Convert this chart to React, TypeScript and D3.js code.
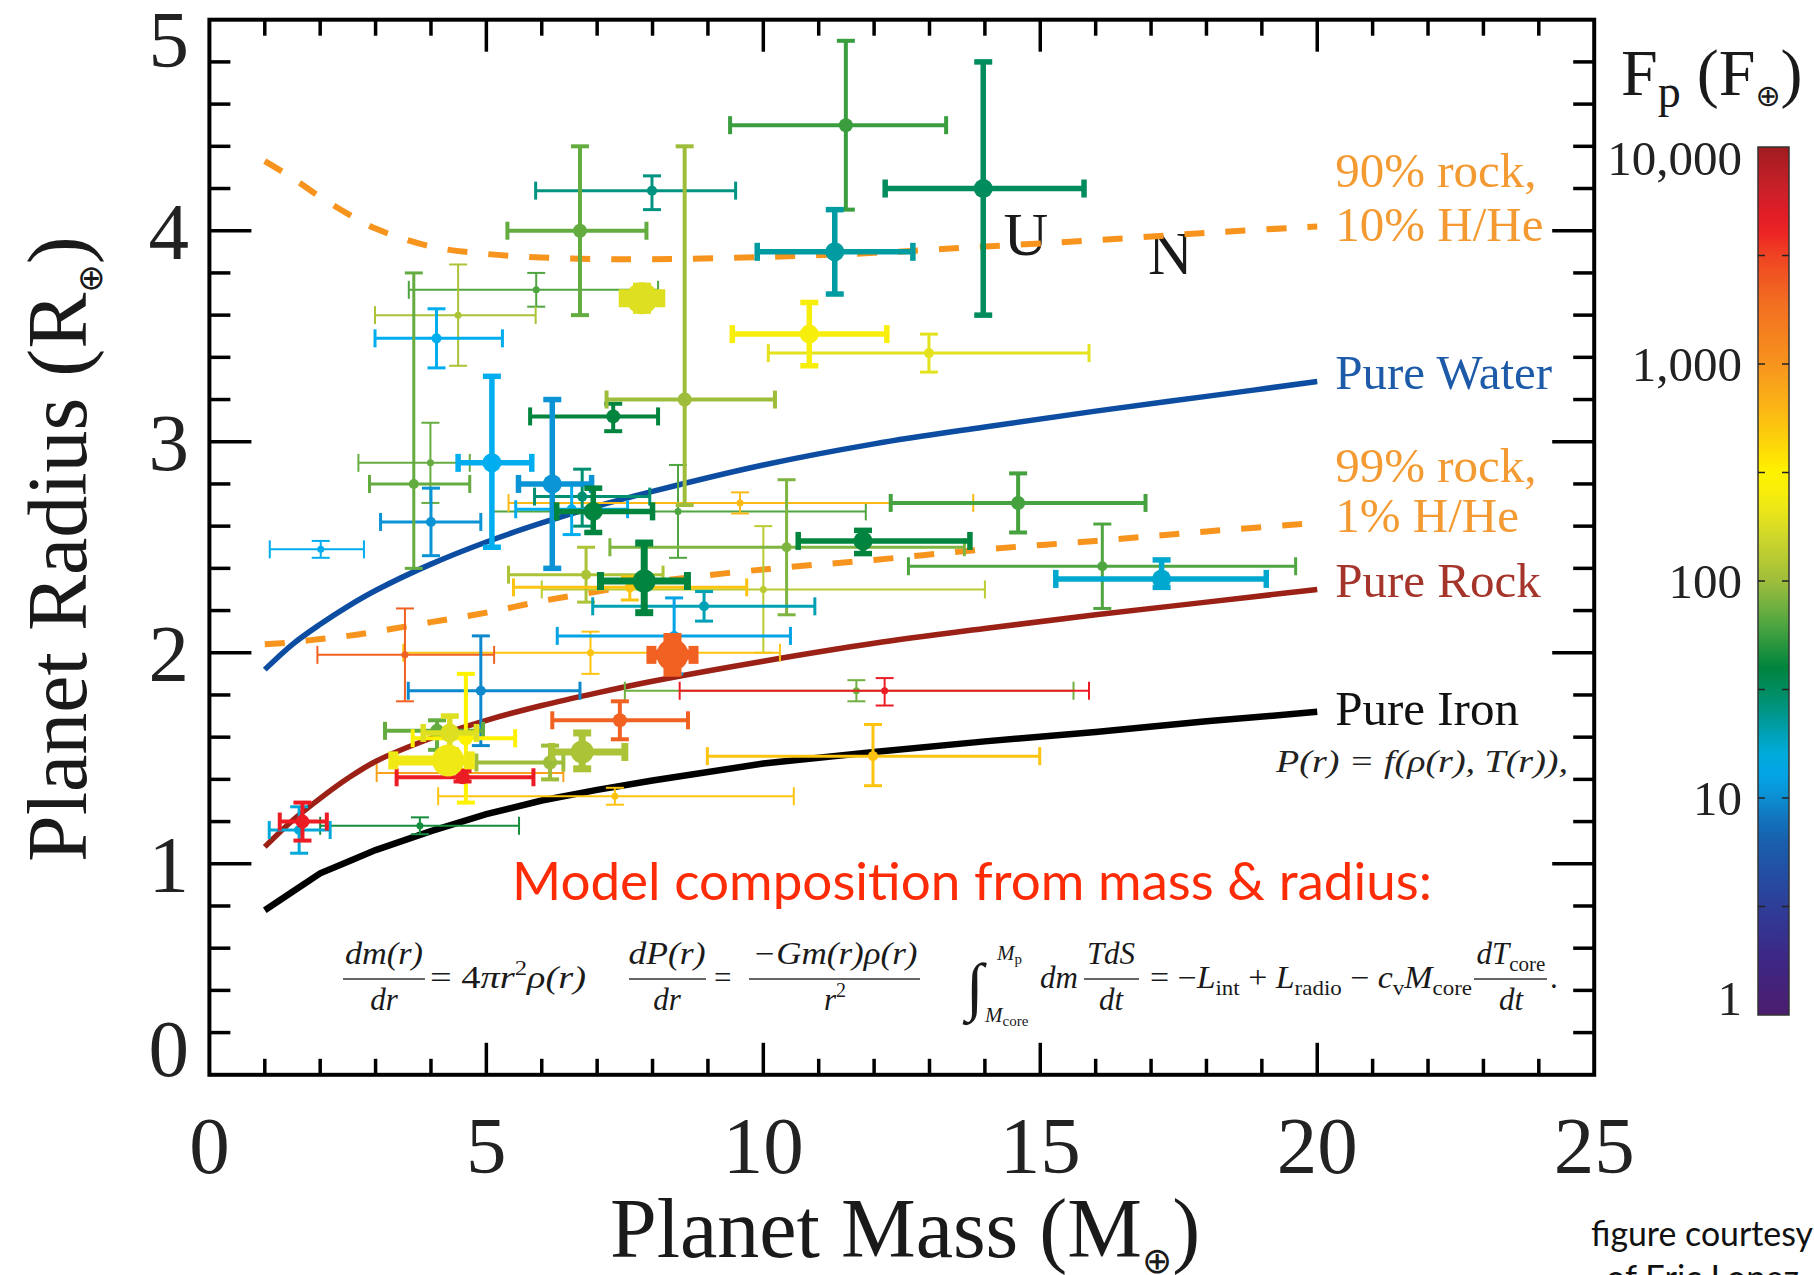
import React from 'react';
import * as d3 from 'd3';

const WIDTH = 1814;
const HEIGHT = 1275;
const frame = { left: 209.4, right: 1594.2, top: 19.7, bottom: 1074.8 };
const bar = { left: 1758, right: 1789, top: 147, bottom: 1015 };

const serif = "'Liberation Serif', 'Times New Roman', Times, serif";
const sans = "Lato, 'Open Sans', 'Noto Sans', sans-serif";
const symbolFont = "'DejaVu Sans', sans-serif";

// axes
const massTicks = [0, 5, 10, 15, 20, 25];
const radiusTicks = [0, 1, 2, 3, 4, 5];
const fluxTicks = [1, 10, 100, 1000, 10000];
const fluxTickLabels = ['1', '10', '100', '1,000', '10,000'];

// colour map for incident flux (log10 F / F_earth -> colour)
const cmapLog = [0, 0.3, 0.6, 0.85, 1.0, 1.15, 1.3, 1.45, 1.6, 1.75, 1.9, 2.0, 2.2, 2.35, 2.5, 2.65, 2.8, 3.0, 3.3, 3.5, 3.63, 3.82, 4.0];
const cmapColors = ['#4b1c6f', '#3b2a88', '#27489f', '#1565b0', '#0c8ed1', '#00aeef', '#00a1b4', '#009070', '#00843d', '#3b9e3f', '#77b241', '#9ebd3b', '#cdd62b', '#f2ea14', '#fff200', '#fdd20a', '#fbb517', '#f7941d', '#f26b21', '#ef4323', '#ed1c24', '#c7202a', '#a01c1e'];

// model mass-radius relations
const modelMass = [1, 1.5, 2, 2.5, 3, 4, 5, 6, 7, 8, 10, 12, 14, 16, 18, 20];
const rock90HHe10 = [4.33, 4.25, 4.16, 4.08, 4.01, 3.925, 3.89, 3.873, 3.866, 3.865, 3.875, 3.895, 3.925, 3.955, 3.99, 4.02];
const rock99HHe1 = [2.04, 2.05, 2.065, 2.08, 2.1, 2.145, 2.19, 2.245, 2.29, 2.335, 2.395, 2.44, 2.49, 2.53, 2.575, 2.615];
const pureWater = [1.92, 2.04, 2.135, 2.22, 2.295, 2.42, 2.525, 2.615, 2.695, 2.765, 2.89, 2.99, 3.07, 3.145, 3.215, 3.285];
const pureRock = [1.08, 1.205, 1.31, 1.405, 1.485, 1.595, 1.68, 1.75, 1.81, 1.865, 1.96, 2.045, 2.115, 2.18, 2.24, 2.3];
const pureIron = [0.78, 0.8675, 0.955, 1.01, 1.065, 1.155, 1.235, 1.3, 1.35, 1.395, 1.475, 1.53, 1.58, 1.625, 1.675, 1.72];

// solar system ice giants
const solarName = ['U', 'N'];
const solarMass = [14.54, 17.15];
const solarRadius = [3.97, 3.88];

// measured planets: mass (M_earth) with bounds, radius (R_earth) with bounds,
// incident flux (F_earth) and mass-precision grade (1 = weakest, 6 = best)
const planetMass = [
  11.49, 13.97, 11.29, 7.99, 6.69,
  7.81, 5.9, 4.49, 4.1, 5.1,
  6.19, 7.29, 8.58, 10.83, 12.99,
  2.01, 4.0, 3.99, 3.69, 6.73,
  6.54, 6.93, 8.46, 9.58, 10.42,
  10.0, 6.8, 7.59, 7.85, 8.93,
  8.39, 8.36, 6.88, 3.53, 4.9,
  11.68, 12.19, 7.41, 6.73, 11.98,
  14.6, 11.8, 16.12, 17.19, 1.68,
  1.62, 3.8, 4.31, 4.34, 4.11,
  4.63, 4.57, 4.5, 6.15, 7.32,
];
const massLow = [
  9.4, 12.2, 9.89, 5.89, 5.38,
  7.48, 3.6, 2.99, 2.99, 4.49,
  5.58, 5.79, 7.17, 9.44, 10.09,
  1.09, 3.09, 2.69, 2.89, 5.87,
  5.53, 6.27, 5.12, 5.4, 7.23,
  6.0, 5.4, 5.49, 7.06, 6.92,
  6.28, 7.98, 3.5, 1.95, 3.59,
  7.5, 8.49, 6.19, 6.18, 8.99,
  12.3, 10.63, 12.62, 15.28, 1.27,
  1.08, 2.0, 3.32, 3.86, 3.17,
  3.67, 3.38, 3.02, 4.82, 4.13,
];
const massHigh = [
  13.3, 15.79, 12.7, 9.5, 7.89,
  8.14, 8.1, 5.89, 5.29, 5.82,
  6.9, 8.1, 10.21, 12.23, 15.88,
  2.79, 4.9, 4.7, 4.7, 7.95,
  7.55, 8.0, 11.85, 13.79, 13.63,
  14.0, 8.19, 9.7, 8.63, 10.93,
  10.49, 8.74, 10.3, 5.14, 6.69,
  15.6, 15.88, 8.64, 7.5, 14.99,
  16.9, 13.73, 19.61, 19.08, 2.12,
  2.18, 5.59, 4.7, 4.82, 4.94,
  5.52, 5.85, 6.39, 6.39, 10.55,
];
const planetRadius = [
  4.5, 4.2, 3.9, 4.19, 4.0,
  3.68, 3.72, 3.6, 3.49, 2.9,
  2.8, 3.12, 3.2, 3.51, 3.42,
  2.49, 2.62, 2.9, 2.8, 2.74,
  2.68, 2.67, 2.67, 2.71, 2.5,
  2.3, 2.37, 2.31, 2.34, 2.22,
  2.08, 1.99, 2.0, 1.99, 1.82,
  1.82, 1.82, 1.68, 1.53, 1.51,
  2.71, 2.53, 2.41, 2.35, 1.2,
  1.16, 1.18, 1.49, 1.62, 1.63,
  1.595, 1.41, 1.43, 1.48, 1.32,
];
const radiusLow = [
  4.1, 3.6, 3.7, 4.1, 3.6,
  3.63, 3.64, 3.36, 3.35, 2.5,
  2.4, 3.05, 2.7, 3.36, 3.33,
  2.45, 2.46, 2.71, 2.4, 2.6,
  2.56, 2.57, 2.45, 2.66, 2.18,
  2.0, 2.24, 2.25, 2.19, 2.15,
  1.9, 1.91, 1.9, 1.77, 1.56,
  1.77, 1.75, 1.59, 1.45, 1.37,
  2.57, 2.47, 2.21, 2.31, 1.11,
  1.05, 1.14, 1.47, 1.54, 1.54,
  1.29, 1.39, 1.41, 1.4, 1.28,
];
const radiusHigh = [
  4.9, 4.8, 4.1, 4.26, 4.4,
  3.73, 3.8, 3.84, 3.63, 3.31,
  3.2, 3.18, 4.4, 3.66, 3.51,
  2.53, 2.78, 3.09, 3.8, 2.87,
  2.8, 2.78, 2.89, 2.76, 2.82,
  2.6, 2.5, 2.36, 2.52, 2.29,
  2.26, 2.07, 2.1, 2.21, 2.08,
  1.87, 1.88, 1.77, 1.62, 1.66,
  2.85, 2.58, 2.61, 2.44, 1.29,
  1.27, 1.22, 1.51, 1.7, 1.68,
  1.9, 1.44, 1.45, 1.56, 1.36,
];
const planetFlux = [
  56, 32, 22, 26, 71,
  186, 63, 112, 14, 14,
  10.5, 40, 100, 263, 195,
  14, 10.5, 72, 71, 28,
  14, 40, 63, 600, 83,
  132, 112, 525, 40, 20,
  12.6, 2240, 525, 2240, 9.5,
  76, 4300, 2240, 112, 525,
  60, 40, 63, 17, 4300,
  16, 45, 220, 186, 71,
  316, 4300, 830, 100, 525,
];
const planetGrade = [
  3, 4, 4, 2, 3,
  6, 1, 1, 2, 4,
  4, 3, 3, 4, 2,
  1, 2, 1, 2, 2,
  2, 4, 1, 1, 2,
  1, 2, 2, 5, 2,
  2, 6, 1, 1, 2,
  1, 1, 3, 5, 2,
  3, 4, 2, 4, 3,
  2, 1, 6, 4, 3,
  3, 3, 1, 3, 1,
];

// stroke width and marker radius for each precision grade
const gradeStroke = [0, 2, 3, 4, 5.5, 7, 10];
const gradeMarker = [0, 3.5, 5, 7, 9.5, 11.5, 16];
const CAP = 9;

export default function App() {
  const x = d3.scaleLinear().domain([0, 25]).range([frame.left, frame.right]);
  const y = d3.scaleLinear().domain([0, 5]).range([frame.bottom, frame.top]);
  const fy = d3.scaleLog().domain([1, 10000]).range([bar.bottom, bar.top]);
  const cmap = d3.scaleLinear<string>().domain(cmapLog).range(cmapColors).interpolate(d3.interpolateRgb);
  const fluxColor = (f: number) => cmap(Math.log10(f));

  const smooth = d3.line<number>().x((_, i) => x(modelMass[i])).y((d) => y(d)).curve(d3.curveCatmullRom.alpha(0.5));
  const straight = d3.line<number>().x((_, i) => x(modelMass[i])).y((d) => y(d));

  const xMinor = d3.range(1, 25);
  const yMinor = d3.range(1, 25).map((i) => i * 0.2);

  const order = d3.range(planetMass.length).sort((a, b) => planetGrade[a] - planetGrade[b] || a - b);

  const gradStops = d3.range(0, 41).map((k) => ({ off: k / 40, col: cmap((4 * k) / 40) }));
  const barTicks = d3.range(1, 8).map((k) => Math.pow(10, k * 0.5));

  const endY = (arr: number[]) => y(arr[arr.length - 1]);
  const labelX = x(20) + 18;

  const eqSize = 31;

  return (
    <svg width={WIDTH} height={HEIGHT} viewBox={`0 0 ${WIDTH} ${HEIGHT}`}
      style={{ position: 'absolute', left: 0, top: 0, display: 'block', background: '#fff' }}>
      <rect x={0} y={0} width={WIDTH} height={HEIGHT} fill="#fff" />
      <defs>
        <linearGradient id="fluxGrad" x1="0" y1="1" x2="0" y2="0">
          {gradStops.map((s, i) => <stop key={i} offset={s.off} stopColor={s.col} />)}
        </linearGradient>
      </defs>

      {/* Uranus and Neptune */}
      {solarName.map((n, i) => (
        <text key={n} x={x(solarMass[i]) + 11} y={y(solarRadius[i]) + 18} textAnchor="middle"
          fontFamily={serif} fontSize={62} fill="#1a1a1a">{n}</text>
      ))}

      {/* model curves */}
      <path d={smooth(rock90HHe10) || ''} fill="none" stroke="#f7941d" strokeWidth={6} strokeDasharray="20 21" />
      <path d={smooth(rock99HHe1) || ''} fill="none" stroke="#f7941d" strokeWidth={6} strokeDasharray="20 21" />
      <path d={smooth(pureWater) || ''} fill="none" stroke="#0c4da2" strokeWidth={5.5} />
      <path d={smooth(pureRock) || ''} fill="none" stroke="#9b2015" strokeWidth={5.5} />
      <path d={straight(pureIron) || ''} fill="none" stroke="#000" strokeWidth={6.5} />

      {/* planets */}
      {order.map((i) => {
        const g = planetGrade[i];
        const sw = gradeStroke[g];
        const mr = gradeMarker[g];
        const c = fluxColor(planetFlux[i]);
        const cx = x(planetMass[i]);
        const cy = y(planetRadius[i]);
        const xl = x(massLow[i]);
        const xh = x(massHigh[i]);
        const yl = y(radiusLow[i]);
        const yh = y(radiusHigh[i]);
        return (
          <g key={i} stroke={c} strokeWidth={sw}>
            <line x1={xl} x2={xh} y1={cy} y2={cy} />
            <line x1={cx} x2={cx} y1={yl} y2={yh} />
            <line x1={xl} x2={xl} y1={cy - CAP} y2={cy + CAP} />
            <line x1={xh} x2={xh} y1={cy - CAP} y2={cy + CAP} />
            <line x1={cx - CAP} x2={cx + CAP} y1={yl} y2={yl} />
            <line x1={cx - CAP} x2={cx + CAP} y1={yh} y2={yh} />
            <circle cx={cx} cy={cy} r={mr} fill={c} stroke="none" />
          </g>
        );
      })}

      {/* curve labels */}
      <g fontFamily={serif} fontSize={49}>
        <text x={labelX} y={endY(rock90HHe10) - 39} fill="#f39b32">90% rock,</text>
        <text x={labelX} y={endY(rock90HHe10) + 15} fill="#f39b32">10% H/He</text>
        <text x={labelX} y={endY(pureWater) + 7} fill="#1d5aa8">Pure Water</text>
        <text x={labelX} y={endY(rock99HHe1) - 41} fill="#f39b32">99% rock,</text>
        <text x={labelX} y={endY(rock99HHe1) + 9} fill="#f39b32">1% H/He</text>
        <text x={labelX} y={endY(pureRock) + 8} fill="#a5342a">Pure Rock</text>
        <text x={labelX} y={endY(pureIron) + 13} fill="#111">Pure Iron</text>
      </g>
      <text x={1276} y={772} fontFamily={serif} fontStyle="italic" fontSize={31} fill="#222"
        textLength={292} lengthAdjust="spacingAndGlyphs">P(r) = f(ρ(r), T(r)),</text>

      <text x={512} y={900} fontFamily={sans} fontSize={53} fill="#fe2b07"
        textLength={920} lengthAdjust="spacingAndGlyphs">Model composition from mass &amp; radius:</text>

      {/* structure equations */}
      <g fontFamily={serif} fontSize={eqSize} fill="#1a1a1a" fontStyle="italic">
        <text x={384} y={964} textAnchor="middle" textLength={78} lengthAdjust="spacingAndGlyphs">dm(r)</text>
        <line x1={343} x2={425} y1={979} y2={979} stroke="#333" strokeWidth={1.6} />
        <text x={384} y={1010} textAnchor="middle">dr</text>
        <text x={430} y={988} textLength={156} lengthAdjust="spacingAndGlyphs">
          <tspan fontStyle="normal">= 4</tspan>πr<tspan fontSize={20} fontStyle="normal" dy={-13}>2</tspan>
          <tspan dy={13}>ρ(r)</tspan>
        </text>

        <text x={667} y={964} textAnchor="middle" textLength={77} lengthAdjust="spacingAndGlyphs">dP(r)</text>
        <line x1={629} x2={706} y1={979} y2={979} stroke="#333" strokeWidth={1.6} />
        <text x={667} y={1010} textAnchor="middle">dr</text>
        <text x={714} y={988} fontStyle="normal">=</text>
        <text x={835} y={964} textAnchor="middle" textLength={165} lengthAdjust="spacingAndGlyphs">−Gm(r)ρ(r)</text>
        <line x1={749} x2={920} y1={979} y2={979} stroke="#333" strokeWidth={1.6} />
        <text x={835} y={1010} textAnchor="middle">r<tspan fontSize={20} fontStyle="normal" dy={-13}>2</tspan></text>

        <text x={966} y={1008} fontSize={64} fontStyle="normal">∫</text>
        <text x={997} y={960} fontSize={21}>M<tspan fontStyle="normal" fontSize={15} dy={4}>p</tspan></text>
        <text x={985} y={1022} fontSize={21}>M<tspan fontStyle="normal" fontSize={15} dy={4}>core</tspan></text>
        <text x={1040} y={988}>dm</text>
        <text x={1111} y={964} textAnchor="middle">TdS</text>
        <line x1={1084} x2={1139} y1={979} y2={979} stroke="#333" strokeWidth={1.6} />
        <text x={1111} y={1010} textAnchor="middle">dt</text>
        <text x={1150} y={988} textLength={322} lengthAdjust="spacingAndGlyphs">
          <tspan fontStyle="normal">= −</tspan>L<tspan fontStyle="normal" fontSize={21} dy={7}>int</tspan>
          <tspan fontStyle="normal" dy={-7}> + </tspan>L<tspan fontStyle="normal" fontSize={21} dy={7}>radio</tspan>
          <tspan fontStyle="normal" dy={-7}> − </tspan>c<tspan fontStyle="normal" fontSize={21} dy={7}>v</tspan>
          <tspan dy={-7}>M</tspan><tspan fontStyle="normal" fontSize={21} dy={7}>core</tspan>
        </text>
        <text x={1511} y={964} textAnchor="middle">dT<tspan fontStyle="normal" fontSize={21} dy={7}>core</tspan></text>
        <line x1={1474} x2={1547} y1={979} y2={979} stroke="#333" strokeWidth={1.6} />
        <text x={1511} y={1010} textAnchor="middle">dt</text>
        <text x={1550} y={988} fontStyle="normal">.</text>
      </g>

      {/* frame and ticks */}
      <g stroke="#000" strokeWidth={3.5}>
        {xMinor.map((v) => {
          const len = v % 5 === 0 ? 32 : 16;
          return (
            <g key={`x${v}`}>
              <line x1={x(v)} x2={x(v)} y1={frame.bottom} y2={frame.bottom - len} />
              <line x1={x(v)} x2={x(v)} y1={frame.top} y2={frame.top + len} />
            </g>
          );
        })}
        {yMinor.map((v) => {
          const major = Math.abs(v - Math.round(v)) < 1e-6;
          const len = major ? 42 : 21;
          return (
            <g key={`y${v.toFixed(1)}`}>
              <line x1={frame.left} x2={frame.left + len} y1={y(v)} y2={y(v)} />
              <line x1={frame.right} x2={frame.right - len} y1={y(v)} y2={y(v)} />
            </g>
          );
        })}
      </g>
      <rect x={frame.left} y={frame.top} width={frame.right - frame.left} height={frame.bottom - frame.top}
        fill="none" stroke="#000" strokeWidth={4} />

      {/* tick labels */}
      <g fontFamily={serif} fontSize={81} fill="#222">
        {massTicks.map((v) => (
          <text key={`xl${v}`} x={x(v)} y={1173} textAnchor="middle">{v}</text>
        ))}
        {radiusTicks.map((v) => (
          <text key={`yl${v}`} x={189} y={Math.min(1076, Math.max(67, y(v) + 28))} textAnchor="end">{v}</text>
        ))}
      </g>

      {/* axis titles */}
      <text x={610} y={1257} fontFamily={serif} fontSize={84} fill="#1a1a1a">
        Planet Mass (M<tspan fontFamily={symbolFont} fontSize={36} dy={16}>⊕</tspan><tspan dy={-16}>)</tspan>
      </text>
      <text transform="translate(86,862) rotate(-90)" fontFamily={serif} fontSize={84} fill="#1a1a1a">
        Planet Radius (R<tspan fontFamily={symbolFont} fontSize={34} dy={16}>⊕</tspan><tspan dy={-16}>)</tspan>
      </text>

      {/* colour bar */}
      <rect x={bar.left} y={bar.top} width={bar.right - bar.left} height={bar.bottom - bar.top}
        fill="url(#fluxGrad)" stroke="#333" strokeWidth={1.5} />
      <g stroke="#222" strokeWidth={1.5}>
        {barTicks.map((v, i) => (
          <g key={`bt${i}`}>
            <line x1={bar.left} x2={bar.left + 7} y1={fy(v)} y2={fy(v)} />
            <line x1={bar.right} x2={bar.right - 7} y1={fy(v)} y2={fy(v)} />
          </g>
        ))}
      </g>
      <g fontFamily={serif} fontSize={49} fill="#222">
        {fluxTicks.map((v, i) => (
          <text key={`fl${v}`} x={1742} y={Math.min(bar.bottom, Math.max(175, fy(v) + 16.5))} textAnchor="end">
            {fluxTickLabels[i]}
          </text>
        ))}
      </g>
      <text x={1621} y={95} fontFamily={serif} fontSize={66} fill="#1a1a1a">
        F<tspan fontSize={46} dy={12}>p</tspan><tspan dx={16} dy={-12}>(F</tspan>
        <tspan fontFamily={symbolFont} fontSize={30} dy={11}>⊕</tspan><tspan dy={-11}>)</tspan>
      </text>

      {/* credit */}
      <text x={1591} y={1246} fontFamily={sans} fontSize={34} fill="#111" textLength={222}
        lengthAdjust="spacingAndGlyphs">figure courtesy</text>
      <text x={1606} y={1290} fontFamily={sans} fontSize={34} fill="#111" textLength={193}
        lengthAdjust="spacingAndGlyphs">of Eric Lopez</text>
    </svg>
  );
}
